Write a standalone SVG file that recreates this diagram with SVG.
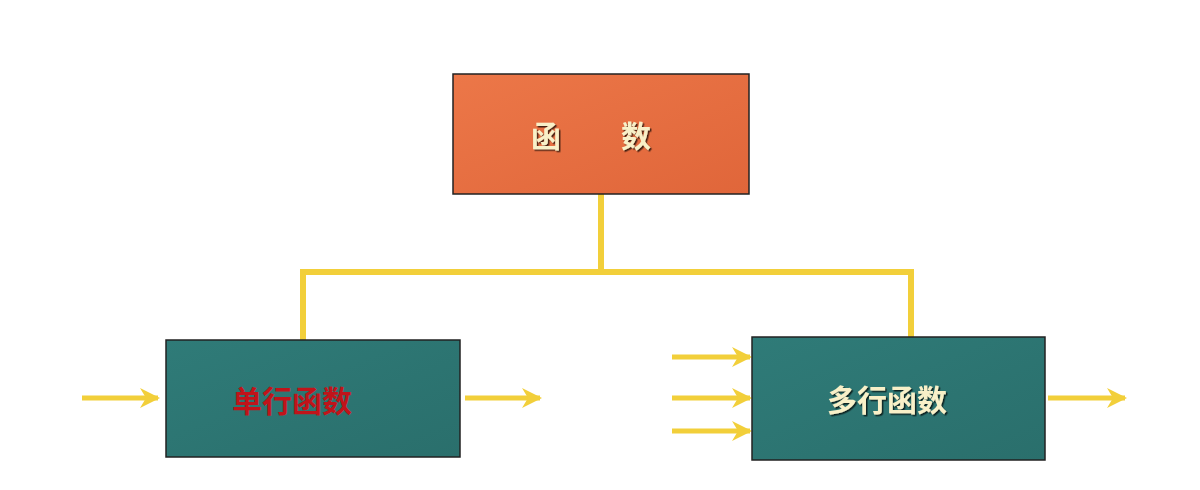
<svg xmlns="http://www.w3.org/2000/svg" width="1200" height="490" viewBox="0 0 1200 490">
<defs>
<style>
.box{stroke:#222;stroke-width:1.5}
.t{font-family:"Noto Sans CJK SC",sans-serif;font-weight:bold;font-size:30px;text-anchor:middle;dominant-baseline:central}
.c{fill:none;stroke:#F2CF3A;stroke-width:6}
.a{stroke:#F2CF3A;stroke-width:5;marker-end:url(#ah)}
</style>
<linearGradient id="og" x1="0" y1="0" x2="1" y2="1"><stop offset="0" stop-color="#EC7748"/><stop offset="1" stop-color="#E0663A"/></linearGradient>
<linearGradient id="tg" x1="0" y1="0" x2="1" y2="1"><stop offset="0" stop-color="#2F7B78"/><stop offset="1" stop-color="#2A6F6C"/></linearGradient>
<marker id="ah" viewBox="0 0 10 10" refX="9" refY="5" markerWidth="4.5" markerHeight="4" orient="auto" markerUnits="strokeWidth"><path d="M0,0L10,5L0,10L3,5Z" fill="#F2CF3A"/></marker>
<filter id="sh"><feDropShadow dx="1.5" dy="1.5" stdDeviation="0.5" flood-color="#000" flood-opacity="0.7"/></filter>
</defs>
<rect width="1200" height="490" fill="#fff"/>
<g id="connectors">
<path class="c" d="M601,194V272M303,340V272H911V337"/>
<line class="a" x1="82" y1="398" x2="158" y2="398"/>
<line class="a" x1="465" y1="398" x2="540" y2="398"/>
<line class="a" x1="672" y1="357" x2="750" y2="357"/>
<line class="a" x1="672" y1="398" x2="750" y2="398"/>
<line class="a" x1="672" y1="431" x2="750" y2="431"/>
<line class="a" x1="1048" y1="398" x2="1125" y2="398"/>
</g>
<g id="top"><rect class="box" x="453" y="74" width="296" height="120" fill="url(#og)"/><text class="t" x="591" y="134" fill="#F8F0C8" filter="url(#sh)">函　　数</text></g>
<g id="single"><rect class="box" x="166" y="340" width="294" height="117" fill="url(#tg)"/><text class="t" x="292" y="399" fill="#C0141A">单行函数</text></g>
<g id="multi"><rect class="box" x="752" y="337" width="293" height="123" fill="url(#tg)"/><text class="t" x="887" y="398" fill="#F8F0C8" filter="url(#sh)">多行函数</text></g>
</svg>
